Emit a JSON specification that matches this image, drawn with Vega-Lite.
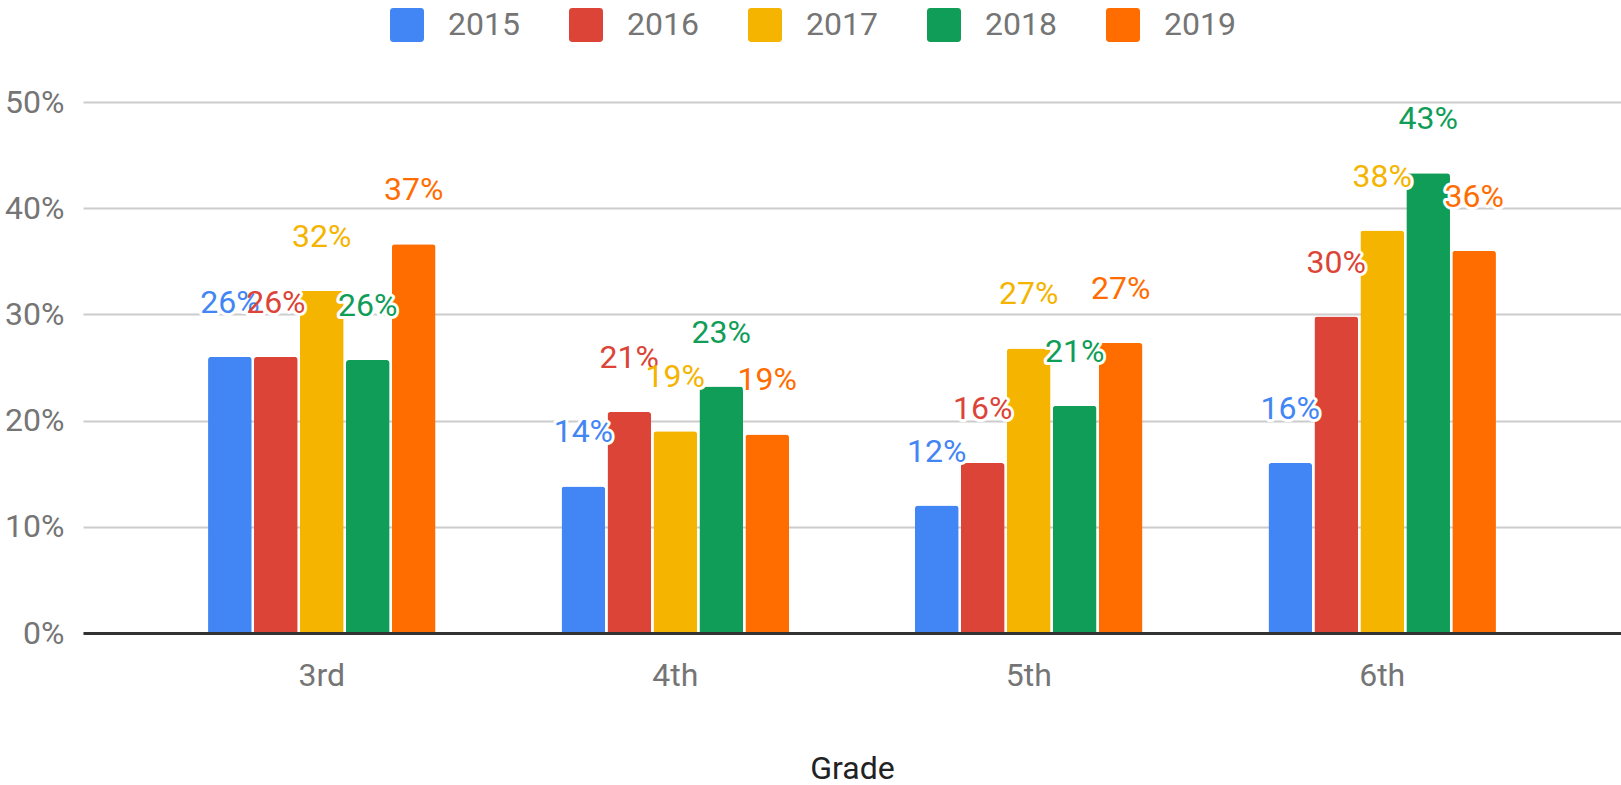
{
  "$schema": "https://vega.github.io/schema/vega-lite/v6.json",
  "width": 1538,
  "height": 531,
  "autosize": {"type": "none"},
  "padding": {"left": 83, "top": 102, "right": 0, "bottom": 152},
  "background": "white",
  "config": {"font": "Roboto", "view": {"stroke": null}},
  "data": {
    "values": [
      {"grade": "3rd", "year": "2015", "value": 0.260},
      {"grade": "3rd", "year": "2016", "value": 0.260},
      {"grade": "3rd", "year": "2017", "value": 0.322},
      {"grade": "3rd", "year": "2018", "value": 0.257},
      {"grade": "3rd", "year": "2019", "value": 0.366},
      {"grade": "4th", "year": "2015", "value": 0.138},
      {"grade": "4th", "year": "2016", "value": 0.208},
      {"grade": "4th", "year": "2017", "value": 0.190},
      {"grade": "4th", "year": "2018", "value": 0.232},
      {"grade": "4th", "year": "2019", "value": 0.187},
      {"grade": "5th", "year": "2015", "value": 0.120},
      {"grade": "5th", "year": "2016", "value": 0.160},
      {"grade": "5th", "year": "2017", "value": 0.268},
      {"grade": "5th", "year": "2018", "value": 0.214},
      {"grade": "5th", "year": "2019", "value": 0.273},
      {"grade": "6th", "year": "2015", "value": 0.160},
      {"grade": "6th", "year": "2016", "value": 0.298},
      {"grade": "6th", "year": "2017", "value": 0.379},
      {"grade": "6th", "year": "2018", "value": 0.433},
      {"grade": "6th", "year": "2019", "value": 0.360}
    ]
  },
  "encoding": {
    "x": {
      "field": "grade",
      "type": "nominal",
      "sort": ["3rd", "4th", "5th", "6th"],
      "scale": {"paddingInner": 0.3564, "paddingOuter": 0.3538},
      "axis": {
        "title": "Grade",
        "titleFontSize": 32,
        "titleFontWeight": "normal",
        "titleColor": "#222222",
        "titleBaseline": "top",
        "titleY": 120,
        "labelFontSize": 32,
        "labelColor": "#757575",
        "labelAngle": 0,
        "labelPadding": 27,
        "ticks": false,
        "tickSize": 0,
        "domain": true,
        "domainColor": "#333333",
        "domainWidth": 3,
        "zindex": 1
      }
    },
    "xOffset": {
      "field": "year",
      "type": "nominal",
      "scale": {"paddingInner": 0.05, "paddingOuter": 0}
    },
    "y": {
      "field": "value",
      "type": "quantitative",
      "scale": {"domain": [0, 0.5], "nice": false},
      "axis": {
        "title": null,
        "values": [0, 0.1, 0.2, 0.3, 0.4, 0.5],
        "format": ".0%",
        "labelFontSize": 32,
        "labelColor": "#757575",
        "labelPadding": 19,
        "ticks": false,
        "tickSize": 0,
        "domain": false,
        "grid": true,
        "gridColor": "#cccccc",
        "gridWidth": 2
      }
    },
    "color": {
      "field": "year",
      "type": "nominal",
      "scale": {
        "domain": ["2015", "2016", "2017", "2018", "2019"],
        "range": ["#4285F4", "#DB4437", "#F4B400", "#0F9D58", "#FF6D01"]
      },
      "legend": {
        "title": null,
        "orient": "none",
        "direction": "horizontal",
        "legendX": 307,
        "legendY": -94,
        "symbolType": "M-0.8,-1 H0.8 Q1,-1 1,-0.8 V0.8 Q1,1 0.8,1 H-0.8 Q-1,1 -1,0.8 V-0.8 Q-1,-1 -0.8,-1 Z",
        "symbolSize": 1156,
        "symbolStrokeWidth": 0,
        "labelFontSize": 32,
        "labelColor": "#757575",
        "labelOffset": 24,
        "columnPadding": 49
      }
    }
  },
  "layer": [
    {
      "mark": {"type": "bar", "cornerRadiusTopLeft": 3, "cornerRadiusTopRight": 3}
    },
    {
      "mark": {
        "type": "text",
        "dy": -54,
        "fontSize": 32,
        "stroke": "white",
        "strokeWidth": 6,
        "strokeJoin": "round"
      },
      "encoding": {
        "text": {"field": "value", "type": "quantitative", "format": ".0%"},
        "color": {"value": "white"}
      }
    },
    {
      "mark": {"type": "text", "dy": -54, "fontSize": 32},
      "encoding": {
        "text": {"field": "value", "type": "quantitative", "format": ".0%"}
      }
    }
  ]
}
